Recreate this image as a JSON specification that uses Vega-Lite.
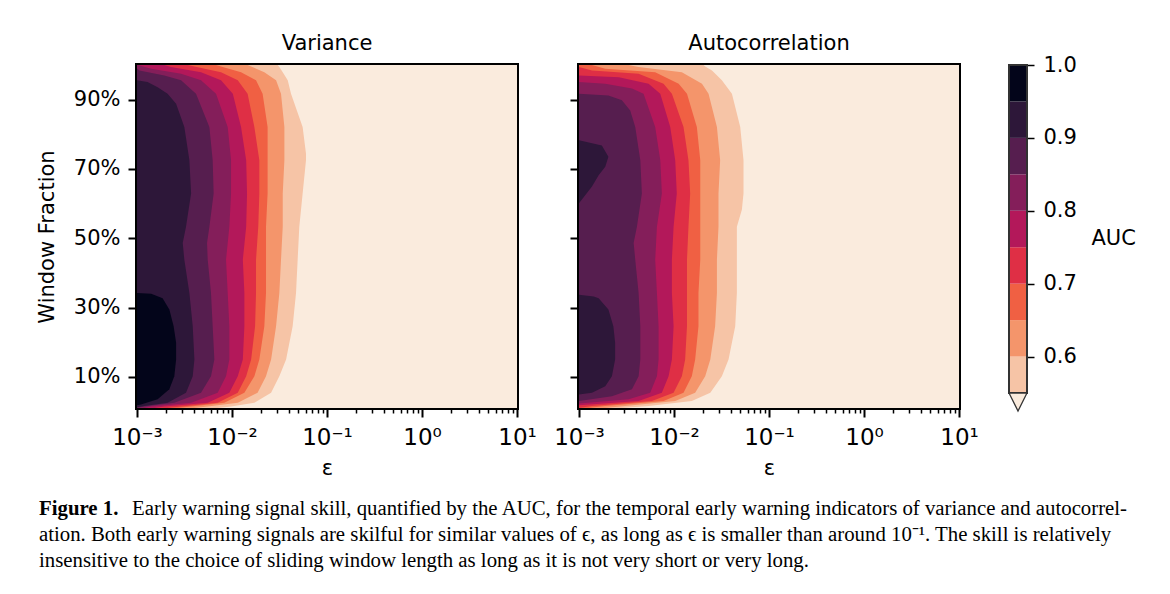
{
  "$schema": "https://vega.github.io/schema/vega-lite/v6.json",
  "background": "white",
  "padding": {"left": 34, "top": 31, "right": 5, "bottom": 5},
  "config": {
    "font": "DejaVu Sans",
    "view": {"stroke": "black", "strokeWidth": 4},
    "axis": {"domain": false, "grid": false, "tickColor": "black", "tickWidth": 2, "labelColor": "black", "labelFont": "DejaVu Sans", "labelFontSize": 21, "titleFont": "DejaVu Sans", "titleFontSize": 21, "titleFontWeight": "normal", "titleColor": "black"},
    "title": {"font": "DejaVu Sans", "fontSize": 21, "fontWeight": "normal", "color": "black", "offset": 11}
  },
  "datasets": {
    "bar": [
      {"l": "0.50", "lo": 0.50, "hi": 0.55},
      {"l": "0.55", "lo": 0.55, "hi": 0.60},
      {"l": "0.60", "lo": 0.60, "hi": 0.65},
      {"l": "0.65", "lo": 0.65, "hi": 0.70},
      {"l": "0.70", "lo": 0.70, "hi": 0.75},
      {"l": "0.75", "lo": 0.75, "hi": 0.80},
      {"l": "0.80", "lo": 0.80, "hi": 0.85},
      {"l": "0.85", "lo": 0.85, "hi": 0.90},
      {"l": "0.90", "lo": 0.90, "hi": 0.95},
      {"l": "0.95", "lo": 0.95, "hi": 1.00}
    ],
    "caption": [
      {"k": "b", "n": 1, "t": "Figure 1."},
      {"k": "r", "n": 1, "t": "Early warning signal skill, quantified by the AUC, for the temporal early warning indicators of variance and autocorrel-"},
      {"k": "p", "n": 2, "t": "ation. Both early warning signals are skilful for similar values of ϵ, as long as ϵ is smaller than around 10⁻¹. The skill is relatively"},
      {"k": "p", "n": 3, "t": "insensitive to the choice of sliding window length as long as it is not very short or very long."}
    ],
    "contours": [
      {"p":"V","l":"0.50","w":0.01,"e":10},{"p":"V","l":"0.50","w":1.0,"e":10},
      {"p":"V","l":"0.55","w":1.000,"e":0.0303},{"p":"V","l":"0.55","w":0.994,"e":0.0315},{"p":"V","l":"0.55","w":0.979,"e":0.0342},{"p":"V","l":"0.55","w":0.956,"e":0.0386},{"p":"V","l":"0.55","w":0.917,"e":0.0418},{"p":"V","l":"0.55","w":0.821,"e":0.0554},{"p":"V","l":"0.55","w":0.744,"e":0.0601},{"p":"V","l":"0.55","w":0.725,"e":0.0601},{"p":"V","l":"0.55","w":0.629,"e":0.0554},{"p":"V","l":"0.55","w":0.533,"e":0.0511},{"p":"V","l":"0.55","w":0.438,"e":0.0491},{"p":"V","l":"0.55","w":0.342,"e":0.0472},{"p":"V","l":"0.55","w":0.246,"e":0.0435},{"p":"V","l":"0.55","w":0.150,"e":0.0371},{"p":"V","l":"0.55","w":0.102,"e":0.0315},{"p":"V","l":"0.55","w":0.054,"e":0.0258},{"p":"V","l":"0.55","w":0.025,"e":0.0172},{"p":"V","l":"0.55","w":0.014,"e":0.00977},{"p":"V","l":"0.55","w":0.010,"e":0.00707},
      {"p":"V","l":"0.60","w":1.000,"e":0.0146},{"p":"V","l":"0.60","w":0.996,"e":0.0159},{"p":"V","l":"0.60","w":0.979,"e":0.0219},{"p":"V","l":"0.60","w":0.956,"e":0.0291},{"p":"V","l":"0.60","w":0.917,"e":0.0328},{"p":"V","l":"0.60","w":0.821,"e":0.0356},{"p":"V","l":"0.60","w":0.725,"e":0.0356},{"p":"V","l":"0.60","w":0.629,"e":0.0342},{"p":"V","l":"0.60","w":0.533,"e":0.0342},{"p":"V","l":"0.60","w":0.438,"e":0.0328},{"p":"V","l":"0.60","w":0.342,"e":0.0315},{"p":"V","l":"0.60","w":0.246,"e":0.0291},{"p":"V","l":"0.60","w":0.150,"e":0.0258},{"p":"V","l":"0.60","w":0.102,"e":0.0228},{"p":"V","l":"0.60","w":0.054,"e":0.0186},{"p":"V","l":"0.60","w":0.025,"e":0.0115},{"p":"V","l":"0.60","w":0.014,"e":0.00555},{"p":"V","l":"0.60","w":0.010,"e":0.00402},
      {"p":"V","l":"0.65","w":1.000,"e":0.00679},{"p":"V","l":"0.65","w":0.996,"e":0.00766},{"p":"V","l":"0.65","w":0.979,"e":0.01245},{"p":"V","l":"0.65","w":0.956,"e":0.0179},{"p":"V","l":"0.65","w":0.917,"e":0.0210},{"p":"V","l":"0.65","w":0.821,"e":0.0237},{"p":"V","l":"0.65","w":0.725,"e":0.0237},{"p":"V","l":"0.65","w":0.629,"e":0.0237},{"p":"V","l":"0.65","w":0.533,"e":0.0228},{"p":"V","l":"0.65","w":0.438,"e":0.0228},{"p":"V","l":"0.65","w":0.342,"e":0.0228},{"p":"V","l":"0.65","w":0.246,"e":0.0219},{"p":"V","l":"0.65","w":0.150,"e":0.0194},{"p":"V","l":"0.65","w":0.102,"e":0.0172},{"p":"V","l":"0.65","w":0.054,"e":0.0135},{"p":"V","l":"0.65","w":0.025,"e":0.0083},{"p":"V","l":"0.65","w":0.014,"e":0.00371},{"p":"V","l":"0.65","w":0.010,"e":0.0027},
      {"p":"V","l":"0.70","w":1.000,"e":0.00342},{"p":"V","l":"0.70","w":0.996,"e":0.00402},{"p":"V","l":"0.70","w":0.979,"e":0.00766},{"p":"V","l":"0.70","w":0.956,"e":0.0115},{"p":"V","l":"0.70","w":0.917,"e":0.0146},{"p":"V","l":"0.70","w":0.821,"e":0.0172},{"p":"V","l":"0.70","w":0.725,"e":0.0194},{"p":"V","l":"0.70","w":0.629,"e":0.0194},{"p":"V","l":"0.70","w":0.533,"e":0.0189},{"p":"V","l":"0.70","w":0.438,"e":0.0179},{"p":"V","l":"0.70","w":0.342,"e":0.0179},{"p":"V","l":"0.70","w":0.246,"e":0.0175},{"p":"V","l":"0.70","w":0.150,"e":0.0159},{"p":"V","l":"0.70","w":0.102,"e":0.0141},{"p":"V","l":"0.70","w":0.054,"e":0.0115},{"p":"V","l":"0.70","w":0.025,"e":0.00707},{"p":"V","l":"0.70","w":0.014,"e":0.00291},{"p":"V","l":"0.70","w":0.010,"e":0.0021},
      {"p":"V","l":"0.75","w":1.000,"e":0.00194},{"p":"V","l":"0.75","w":0.994,"e":0.00228},{"p":"V","l":"0.75","w":0.979,"e":0.00472},{"p":"V","l":"0.75","w":0.956,"e":0.00766},{"p":"V","l":"0.75","w":0.917,"e":0.0102},{"p":"V","l":"0.75","w":0.821,"e":0.01245},{"p":"V","l":"0.75","w":0.725,"e":0.0141},{"p":"V","l":"0.75","w":0.629,"e":0.0144},{"p":"V","l":"0.75","w":0.533,"e":0.0141},{"p":"V","l":"0.75","w":0.438,"e":0.0130},{"p":"V","l":"0.75","w":0.342,"e":0.0135},{"p":"V","l":"0.75","w":0.246,"e":0.0135},{"p":"V","l":"0.75","w":0.150,"e":0.0130},{"p":"V","l":"0.75","w":0.102,"e":0.0115},{"p":"V","l":"0.75","w":0.054,"e":0.00938},{"p":"V","l":"0.75","w":0.025,"e":0.00555},{"p":"V","l":"0.75","w":0.014,"e":0.00194},{"p":"V","l":"0.75","w":0.010,"e":0.00153},
      {"p":"V","l":"0.80","w":1.000,"e":0.00102},{"p":"V","l":"0.80","w":0.989,"e":0.00141},{"p":"V","l":"0.80","w":0.975,"e":0.00291},{"p":"V","l":"0.80","w":0.956,"e":0.00472},{"p":"V","l":"0.80","w":0.917,"e":0.00679},{"p":"V","l":"0.80","w":0.821,"e":0.00901},{"p":"V","l":"0.80","w":0.725,"e":0.00977},{"p":"V","l":"0.80","w":0.629,"e":0.00977},{"p":"V","l":"0.80","w":0.533,"e":0.00938},{"p":"V","l":"0.80","w":0.438,"e":0.00865},{"p":"V","l":"0.80","w":0.342,"e":0.00901},{"p":"V","l":"0.80","w":0.246,"e":0.00938},{"p":"V","l":"0.80","w":0.150,"e":0.00938},{"p":"V","l":"0.80","w":0.102,"e":0.00865},{"p":"V","l":"0.80","w":0.054,"e":0.00707},{"p":"V","l":"0.80","w":0.025,"e":0.00371},{"p":"V","l":"0.80","w":0.014,"e":0.00141},{"p":"V","l":"0.80","w":0.010,"e":0.00119},
      {"p":"V","l":"0.85","w":0.990,"e":0.001},{"p":"V","l":"0.85","w":0.984,"e":0.00106},{"p":"V","l":"0.85","w":0.970,"e":0.00194},{"p":"V","l":"0.85","w":0.956,"e":0.00291},{"p":"V","l":"0.85","w":0.917,"e":0.00418},{"p":"V","l":"0.85","w":0.821,"e":0.00578},{"p":"V","l":"0.85","w":0.725,"e":0.00626},{"p":"V","l":"0.85","w":0.629,"e":0.00641},{"p":"V","l":"0.85","w":0.533,"e":0.00578},{"p":"V","l":"0.85","w":0.486,"e":0.00546},{"p":"V","l":"0.85","w":0.438,"e":0.00555},{"p":"V","l":"0.85","w":0.342,"e":0.00601},{"p":"V","l":"0.85","w":0.246,"e":0.00626},{"p":"V","l":"0.85","w":0.150,"e":0.00652},{"p":"V","l":"0.85","w":0.102,"e":0.00601},{"p":"V","l":"0.85","w":0.054,"e":0.00472},{"p":"V","l":"0.85","w":0.025,"e":0.00247},{"p":"V","l":"0.85","w":0.014,"e":0.00119},{"p":"V","l":"0.85","w":0.010,"e":0.001},
      {"p":"V","l":"0.90","w":0.956,"e":0.001},{"p":"V","l":"0.90","w":0.951,"e":0.00129},{"p":"V","l":"0.90","w":0.936,"e":0.00165},{"p":"V","l":"0.90","w":0.917,"e":0.0021},{"p":"V","l":"0.90","w":0.888,"e":0.00258},{"p":"V","l":"0.90","w":0.821,"e":0.00315},{"p":"V","l":"0.90","w":0.725,"e":0.00356},{"p":"V","l":"0.90","w":0.629,"e":0.00371},{"p":"V","l":"0.90","w":0.533,"e":0.00328},{"p":"V","l":"0.90","w":0.486,"e":0.00303},{"p":"V","l":"0.90","w":0.438,"e":0.00315},{"p":"V","l":"0.90","w":0.342,"e":0.00356},{"p":"V","l":"0.90","w":0.246,"e":0.00386},{"p":"V","l":"0.90","w":0.150,"e":0.00402},{"p":"V","l":"0.90","w":0.102,"e":0.00386},{"p":"V","l":"0.90","w":0.054,"e":0.00328},{"p":"V","l":"0.90","w":0.025,"e":0.0021},{"p":"V","l":"0.90","w":0.016,"e":0.00119},{"p":"V","l":"0.90","w":0.012,"e":0.001},
      {"p":"V","l":"0.95","w":0.342,"e":0.001},{"p":"V","l":"0.95","w":0.340,"e":0.00141},{"p":"V","l":"0.95","w":0.327,"e":0.00186},{"p":"V","l":"0.95","w":0.294,"e":0.00219},{"p":"V","l":"0.95","w":0.246,"e":0.00243},{"p":"V","l":"0.95","w":0.198,"e":0.00258},{"p":"V","l":"0.95","w":0.150,"e":0.00258},{"p":"V","l":"0.95","w":0.102,"e":0.00247},{"p":"V","l":"0.95","w":0.064,"e":0.00219},{"p":"V","l":"0.95","w":0.035,"e":0.00165},{"p":"V","l":"0.95","w":0.020,"e":0.0011},{"p":"V","l":"0.95","w":0.018,"e":0.001},
      {"p":"A","l":"0.50","w":0.01,"e":10},{"p":"A","l":"0.50","w":1.0,"e":10},
      {"p":"A","l":"0.55","w":1.000,"e":0.0205},{"p":"A","l":"0.55","w":0.996,"e":0.0213},{"p":"A","l":"0.55","w":0.984,"e":0.0251},{"p":"A","l":"0.55","w":0.956,"e":0.0319},{"p":"A","l":"0.55","w":0.917,"e":0.0407},{"p":"A","l":"0.55","w":0.821,"e":0.0498},{"p":"A","l":"0.55","w":0.725,"e":0.0539},{"p":"A","l":"0.55","w":0.629,"e":0.0539},{"p":"A","l":"0.55","w":0.582,"e":0.0518},{"p":"A","l":"0.55","w":0.533,"e":0.0459},{"p":"A","l":"0.55","w":0.438,"e":0.0459},{"p":"A","l":"0.55","w":0.342,"e":0.0459},{"p":"A","l":"0.55","w":0.246,"e":0.0441},{"p":"A","l":"0.55","w":0.150,"e":0.0375},{"p":"A","l":"0.55","w":0.102,"e":0.0319},{"p":"A","l":"0.55","w":0.054,"e":0.0241},{"p":"A","l":"0.55","w":0.030,"e":0.0154},{"p":"A","l":"0.55","w":0.016,"e":0.0054},{"p":"A","l":"0.55","w":0.010,"e":0.00283},
      {"p":"A","l":"0.60","w":1.000,"e":0.00333},{"p":"A","l":"0.60","w":0.994,"e":0.00424},{"p":"A","l":"0.60","w":0.979,"e":0.0121},{"p":"A","l":"0.60","w":0.946,"e":0.0197},{"p":"A","l":"0.60","w":0.917,"e":0.0231},{"p":"A","l":"0.60","w":0.821,"e":0.0283},{"p":"A","l":"0.60","w":0.725,"e":0.0306},{"p":"A","l":"0.60","w":0.629,"e":0.0294},{"p":"A","l":"0.60","w":0.533,"e":0.0294},{"p":"A","l":"0.60","w":0.438,"e":0.0283},{"p":"A","l":"0.60","w":0.342,"e":0.0283},{"p":"A","l":"0.60","w":0.246,"e":0.0271},{"p":"A","l":"0.60","w":0.150,"e":0.0241},{"p":"A","l":"0.60","w":0.102,"e":0.0213},{"p":"A","l":"0.60","w":0.054,"e":0.0167},{"p":"A","l":"0.60","w":0.030,"e":0.0103},{"p":"A","l":"0.60","w":0.016,"e":0.00306},{"p":"A","l":"0.60","w":0.010,"e":0.00189},
      {"p":"A","l":"0.65","w":1.000,"e":0.00137},{"p":"A","l":"0.65","w":0.989,"e":0.00189},{"p":"A","l":"0.65","w":0.979,"e":0.00634},{"p":"A","l":"0.65","w":0.946,"e":0.0112},{"p":"A","l":"0.65","w":0.917,"e":0.0137},{"p":"A","l":"0.65","w":0.821,"e":0.0174},{"p":"A","l":"0.65","w":0.725,"e":0.0189},{"p":"A","l":"0.65","w":0.629,"e":0.0189},{"p":"A","l":"0.65","w":0.533,"e":0.0189},{"p":"A","l":"0.65","w":0.438,"e":0.0189},{"p":"A","l":"0.65","w":0.342,"e":0.0181},{"p":"A","l":"0.65","w":0.246,"e":0.0181},{"p":"A","l":"0.65","w":0.150,"e":0.0167},{"p":"A","l":"0.65","w":0.102,"e":0.0154},{"p":"A","l":"0.65","w":0.054,"e":0.0126},{"p":"A","l":"0.65","w":0.030,"e":0.00776},{"p":"A","l":"0.65","w":0.016,"e":0.00189},{"p":"A","l":"0.65","w":0.010,"e":0.00126},
      {"p":"A","l":"0.70","w":0.994,"e":0.001},{"p":"A","l":"0.70","w":0.984,"e":0.00137},{"p":"A","l":"0.70","w":0.975,"e":0.00424},{"p":"A","l":"0.70","w":0.946,"e":0.00776},{"p":"A","l":"0.70","w":0.917,"e":0.0095},{"p":"A","l":"0.70","w":0.821,"e":0.0126},{"p":"A","l":"0.70","w":0.725,"e":0.0142},{"p":"A","l":"0.70","w":0.629,"e":0.0148},{"p":"A","l":"0.70","w":0.533,"e":0.0142},{"p":"A","l":"0.70","w":0.438,"e":0.0137},{"p":"A","l":"0.70","w":0.342,"e":0.0137},{"p":"A","l":"0.70","w":0.246,"e":0.0137},{"p":"A","l":"0.70","w":0.150,"e":0.0131},{"p":"A","l":"0.70","w":0.102,"e":0.0121},{"p":"A","l":"0.70","w":0.054,"e":0.0099},{"p":"A","l":"0.70","w":0.030,"e":0.00585},{"p":"A","l":"0.70","w":0.016,"e":0.00137},{"p":"A","l":"0.70","w":0.010,"e":0.001},
      {"p":"A","l":"0.75","w":0.970,"e":0.001},{"p":"A","l":"0.75","w":0.965,"e":0.00263},{"p":"A","l":"0.75","w":0.946,"e":0.0054},{"p":"A","l":"0.75","w":0.917,"e":0.00717},{"p":"A","l":"0.75","w":0.821,"e":0.00913},{"p":"A","l":"0.75","w":0.725,"e":0.0103},{"p":"A","l":"0.75","w":0.629,"e":0.0107},{"p":"A","l":"0.75","w":0.533,"e":0.0099},{"p":"A","l":"0.75","w":0.438,"e":0.0095},{"p":"A","l":"0.75","w":0.342,"e":0.0095},{"p":"A","l":"0.75","w":0.246,"e":0.0099},{"p":"A","l":"0.75","w":0.150,"e":0.0095},{"p":"A","l":"0.75","w":0.102,"e":0.00877},{"p":"A","l":"0.75","w":0.054,"e":0.00745},{"p":"A","l":"0.75","w":0.030,"e":0.00424},{"p":"A","l":"0.75","w":0.018,"e":0.001},
      {"p":"A","l":"0.80","w":0.951,"e":0.001},{"p":"A","l":"0.80","w":0.946,"e":0.00189},{"p":"A","l":"0.80","w":0.932,"e":0.00361},{"p":"A","l":"0.80","w":0.917,"e":0.00478},{"p":"A","l":"0.80","w":0.821,"e":0.00634},{"p":"A","l":"0.80","w":0.725,"e":0.00717},{"p":"A","l":"0.80","w":0.629,"e":0.00745},{"p":"A","l":"0.80","w":0.533,"e":0.00661},{"p":"A","l":"0.80","w":0.438,"e":0.00634},{"p":"A","l":"0.80","w":0.342,"e":0.00661},{"p":"A","l":"0.80","w":0.246,"e":0.00688},{"p":"A","l":"0.80","w":0.150,"e":0.00688},{"p":"A","l":"0.80","w":0.102,"e":0.00661},{"p":"A","l":"0.80","w":0.054,"e":0.00562},{"p":"A","l":"0.80","w":0.035,"e":0.00333},{"p":"A","l":"0.80","w":0.023,"e":0.001},
      {"p":"A","l":"0.85","w":0.917,"e":0.001},{"p":"A","l":"0.85","w":0.912,"e":0.00204},{"p":"A","l":"0.85","w":0.898,"e":0.00283},{"p":"A","l":"0.85","w":0.869,"e":0.00346},{"p":"A","l":"0.85","w":0.821,"e":0.00391},{"p":"A","l":"0.85","w":0.725,"e":0.00442},{"p":"A","l":"0.85","w":0.629,"e":0.00459},{"p":"A","l":"0.85","w":0.533,"e":0.00407},{"p":"A","l":"0.85","w":0.486,"e":0.00376},{"p":"A","l":"0.85","w":0.438,"e":0.00391},{"p":"A","l":"0.85","w":0.342,"e":0.00424},{"p":"A","l":"0.85","w":0.246,"e":0.00442},{"p":"A","l":"0.85","w":0.150,"e":0.00442},{"p":"A","l":"0.85","w":0.102,"e":0.00424},{"p":"A","l":"0.85","w":0.064,"e":0.00361},{"p":"A","l":"0.85","w":0.044,"e":0.00222},{"p":"A","l":"0.85","w":0.030,"e":0.001},
      {"p":"A","l":"0.90","w":0.783,"e":0.001},{"p":"A","l":"0.90","w":0.768,"e":0.00174},{"p":"A","l":"0.90","w":0.735,"e":0.00204},{"p":"A","l":"0.90","w":0.706,"e":0.00189},{"p":"A","l":"0.90","w":0.682,"e":0.00161},{"p":"A","l":"0.90","w":0.649,"e":0.00137},{"p":"A","l":"0.90","w":0.601,"e":0.001},{"p":"A","l":"0.90","w":0.337,"e":0.001},{"p":"A","l":"0.90","w":0.332,"e":0.00143},{"p":"A","l":"0.90","w":0.327,"e":0.00161},{"p":"A","l":"0.90","w":0.294,"e":0.00204},{"p":"A","l":"0.90","w":0.246,"e":0.0023},{"p":"A","l":"0.90","w":0.198,"e":0.0024},{"p":"A","l":"0.90","w":0.150,"e":0.0024},{"p":"A","l":"0.90","w":0.102,"e":0.00222},{"p":"A","l":"0.90","w":0.073,"e":0.00189},{"p":"A","l":"0.90","w":0.054,"e":0.00137},{"p":"A","l":"0.90","w":0.049,"e":0.001}
    ]
  },
  "vconcat": [
    {
      "hconcat": [
        {
          "hconcat": [
            {
              "width": 380, "height": 343,
              "title": {"text": "Variance"},
              "data": {"name": "contours"},
              "transform": [{"filter": "datum.p === 'V'"}],
              "layer": [
                {
                  "mark": {"type": "area", "orient": "horizontal", "clip": true},
                  "encoding": {
                    "y": {"field": "w", "type": "quantitative", "scale": {"domain": [0.01, 1.0], "nice": false, "zero": false},
                          "axis": {"values": [0.1, 0.3, 0.5, 0.7, 0.9], "format": ".0%", "title": "Window Fraction", "tickSize": 9, "labelPadding": 8, "titlePadding": 16}},
                    "x": {"field": "e", "type": "quantitative", "stack": null, "scale": {"type": "log", "domain": [0.001, 10], "nice": false},
                          "axis": {"orient": "bottom", "values": [0.001, 0.01, 0.1, 1, 10], "labelExpr": "datum.value < 0.005 ? '10⁻³' : datum.value < 0.05 ? '10⁻²' : datum.value < 0.5 ? '10⁻¹' : datum.value < 5 ? '10⁰' : '10¹'", "title": "ε", "tickSize": 9, "labelPadding": 9, "labelFontSize": 23, "labelFlush": false, "labelOverlap": false, "titlePadding": 8}},
                    "x2": {"datum": 0.001},
                    "color": {"field": "l", "type": "nominal", "legend": null,
                              "scale": {"domain": ["0.50","0.55","0.60","0.65","0.70","0.75","0.80","0.85","0.90","0.95"],
                                        "range": ["#FAEBDD","#F6C4A6","#F4956B","#F06043","#DF2F45","#B3185A","#841E5A","#561E4F","#2D1739","#03051A"]}}
                  }
                },
                {
                  "mark": {"type": "point", "opacity": 0},
                  "encoding": {
                    "x": {"field": "e", "type": "quantitative", "axis": {"orient": "bottom", "values": [0.002,0.003,0.004,0.005,0.006,0.007,0.008,0.009,0.02,0.03,0.04,0.05,0.06,0.07,0.08,0.09,0.2,0.3,0.4,0.5,0.6,0.7,0.8,0.9,2,3,4,5,6,7,8,9], "labels": false, "title": null, "tickSize": 5, "tickWidth": 1.5}}
                  }
                }
              ],
              "resolve": {"axis": {"x": "independent"}}
            },
            {
              "width": 380, "height": 343,
              "title": {"text": "Autocorrelation"},
              "data": {"name": "contours"},
              "transform": [{"filter": "datum.p === 'A'"}],
              "layer": [
                {
                  "mark": {"type": "area", "orient": "horizontal", "clip": true},
                  "encoding": {
                    "y": {"field": "w", "type": "quantitative", "scale": {"domain": [0.01, 1.0], "nice": false, "zero": false},
                          "axis": {"values": [0.1, 0.3, 0.5, 0.7, 0.9], "labels": false, "title": null, "tickSize": 9}},
                    "x": {"field": "e", "type": "quantitative", "stack": null, "scale": {"type": "log", "domain": [0.001, 10], "nice": false},
                          "axis": {"orient": "bottom", "values": [0.001, 0.01, 0.1, 1, 10], "labelExpr": "datum.value < 0.005 ? '10⁻³' : datum.value < 0.05 ? '10⁻²' : datum.value < 0.5 ? '10⁻¹' : datum.value < 5 ? '10⁰' : '10¹'", "title": "ε", "tickSize": 9, "labelPadding": 9, "labelFontSize": 23, "labelFlush": false, "labelOverlap": false, "titlePadding": 8}},
                    "x2": {"datum": 0.001},
                    "color": {"field": "l", "type": "nominal", "legend": null}
                  }
                },
                {
                  "mark": {"type": "point", "opacity": 0},
                  "encoding": {
                    "x": {"field": "e", "type": "quantitative", "axis": {"orient": "bottom", "values": [0.002,0.003,0.004,0.005,0.006,0.007,0.008,0.009,0.02,0.03,0.04,0.05,0.06,0.07,0.08,0.09,0.2,0.3,0.4,0.5,0.6,0.7,0.8,0.9,2,3,4,5,6,7,8,9], "labels": false, "title": null, "tickSize": 5, "tickWidth": 1.5}}
                  }
                }
              ],
              "resolve": {"axis": {"x": "independent"}}
            }
          ],
          "spacing": 12
        },
        {
          "width": 18, "height": 328,
          "view": {"stroke": null},
          "data": {"name": "bar"},
          "layer": [
            {
              "transform": [{"filter": "datum.lo >= 0.55"}],
              "mark": {"type": "rect"},
              "encoding": {
                "y": {"field": "lo", "type": "quantitative", "scale": {"domain": [0.55, 1.0], "nice": false, "zero": false},
                      "axis": {"orient": "right", "values": [0.6, 0.7, 0.8, 0.9, 1.0], "format": ".1f", "tickSize": 7, "tickWidth": 1.5, "labelPadding": 9, "title": "AUC", "titleAngle": 0, "titleAlign": "left", "titleBaseline": "middle", "titleX": 64, "titleY": 173}},
                "y2": {"field": "hi"},
                "color": {"field": "l", "type": "nominal", "legend": null}
              }
            },
            {
              "mark": {"type": "rect", "filled": false, "stroke": "#333333", "strokeWidth": 1.3},
              "encoding": {
                "y": {"datum": 0.55, "type": "quantitative"},
                "y2": {"datum": 1.0}
              }
            },
            {
              "transform": [{"filter": "datum.lo < 0.55"}],
              "mark": {"type": "point", "shape": "M-1,0L1,0L0,2Z", "size": 324, "filled": true, "opacity": 1, "stroke": "#333333", "strokeWidth": 1.3},
              "encoding": {
                "y": {"field": "hi", "type": "quantitative", "axis": {"orient": "right", "values": [0.6, 0.7, 0.8, 0.9, 1.0], "format": ".1f", "tickSize": 7, "tickWidth": 1.5, "labelPadding": 9, "title": "AUC", "titleAngle": 0, "titleAlign": "left", "titleBaseline": "middle", "titleX": 64, "titleY": 173}},
                "color": {"field": "l", "type": "nominal", "legend": null}
              }
            }
          ]
        }
      ],
      "spacing": 25
    },
    {
      "width": 1090, "height": 78,
      "view": {"stroke": null},
      "data": {"name": "caption"},
      "encoding": {
        "y": {"field": "n", "type": "ordinal", "axis": null},
        "x": {"datum": 0, "type": "quantitative", "scale": {"domain": [0, 1]}, "axis": null},
        "text": {"field": "t"}
      },
      "layer": [
        {"transform": [{"filter": "datum.k === 'b'"}], "mark": {"type": "text", "align": "left", "baseline": "middle", "font": "Liberation Serif", "fontSize": 20.8, "fontWeight": "bold", "color": "black", "dx": -98}},
        {"transform": [{"filter": "datum.k === 'r'"}], "mark": {"type": "text", "align": "left", "baseline": "middle", "font": "Liberation Serif", "fontSize": 20.8, "color": "black", "dx": -5}},
        {"transform": [{"filter": "datum.k === 'p'"}], "mark": {"type": "text", "align": "left", "baseline": "middle", "font": "Liberation Serif", "fontSize": 20.8, "color": "black", "dx": -98}}
      ]
    }
  ],
  "spacing": 16
}
